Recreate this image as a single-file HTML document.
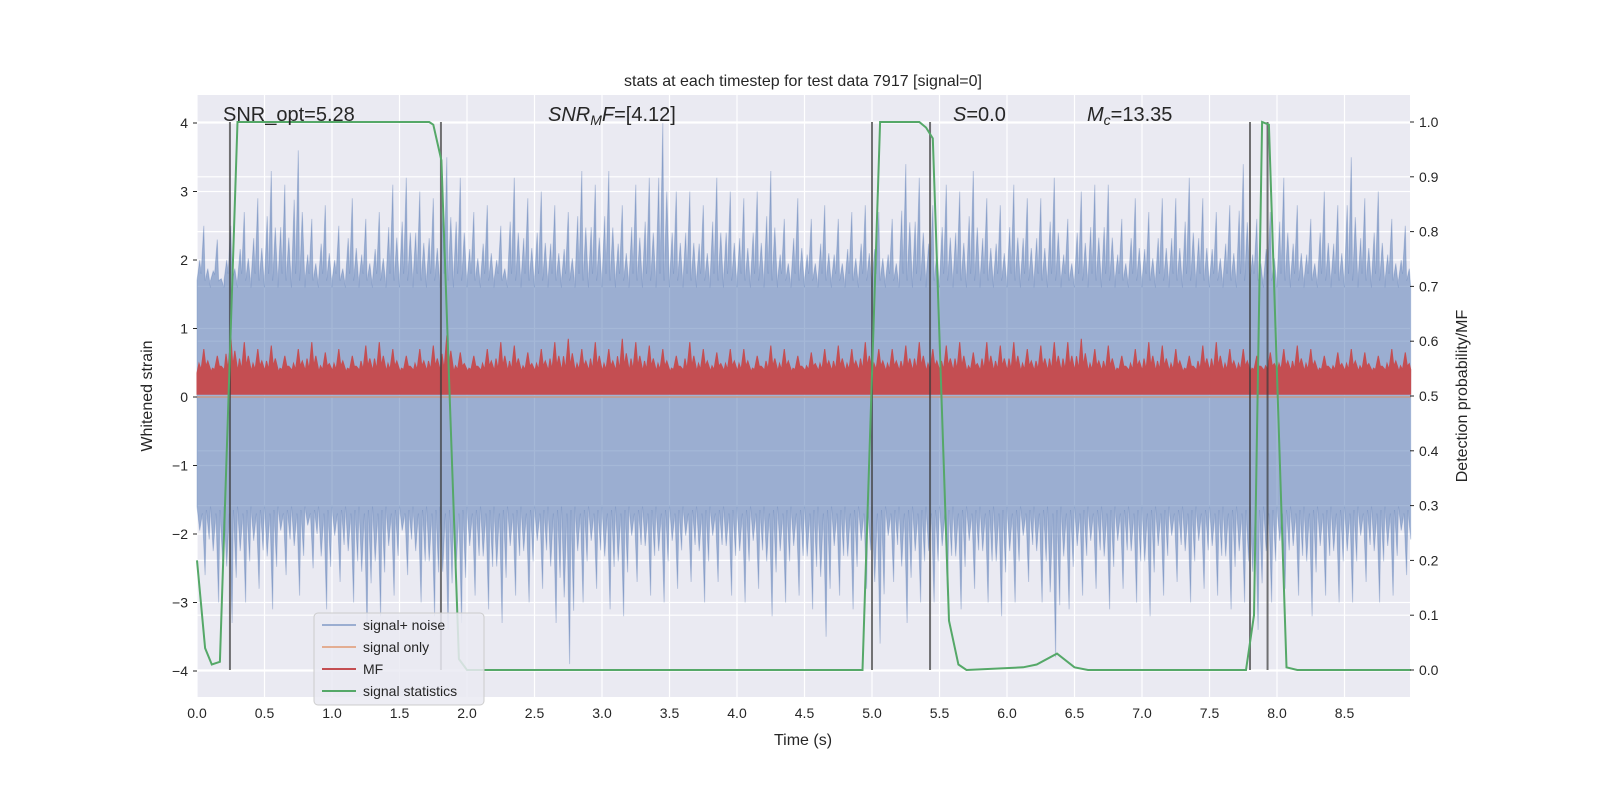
<!DOCTYPE html>
<html><head><meta charset="utf-8"><style>
html,body{margin:0;padding:0;background:#fff;width:1600px;height:800px;overflow:hidden;}
svg{display:block;font-family:"Liberation Sans","DejaVu Sans",sans-serif;}
</style></head><body>
<svg id="chart" width="1600" height="800" viewBox="0 0 1600 800">
<rect x="197" y="95" width="1213" height="602" fill="#eaeaf2"/>
<g id="grid"></g>
<g id="series"></g>
<g id="axes"></g>
<text x="803" y="86" text-anchor="middle" font-size="16" fill="#262626">stats at each timestep for test data 7917 [signal=0]</text>
<text x="223" y="121" font-size="20" fill="#262626">SNR_opt=5.28</text>
<text x="548" y="121" font-size="20" fill="#262626"><tspan font-style="italic">SNR</tspan><tspan font-style="italic" font-size="14" dy="4">M</tspan><tspan font-style="italic" dy="-4">F</tspan>=[4.12]</text>
<text x="953" y="121" font-size="20" fill="#262626"><tspan font-style="italic">S</tspan>=0.0</text>
<text x="1087" y="121" font-size="20" fill="#262626"><tspan font-style="italic">M</tspan><tspan font-style="italic" font-size="14" dy="4">c</tspan><tspan dy="-4">=13.35</tspan></text>
<text x="803" y="745" text-anchor="middle" font-size="16" fill="#262626">Time (s)</text>
<text transform="translate(152,396) rotate(-90)" text-anchor="middle" font-size="16" fill="#262626">Whitened strain</text>
<text transform="translate(1467,396) rotate(-90)" text-anchor="middle" font-size="16" fill="#262626">Detection probability/MF</text>
<g>
<rect x="314" y="613" width="170" height="92" rx="4" fill="#eaeaf2" fill-opacity="0.85" stroke="#cccccc"/>
<line x1="322" y1="625" x2="356" y2="625" stroke="#4c72b0" stroke-opacity="0.5" stroke-width="2"/>
<text x="363" y="630" font-size="14" fill="#262626">signal+ noise</text>
<line x1="322" y1="647" x2="356" y2="647" stroke="#dd8452" stroke-opacity="0.6" stroke-width="2"/>
<text x="363" y="652" font-size="14" fill="#262626">signal only</text>
<line x1="322" y1="669" x2="356" y2="669" stroke="#c44e52" stroke-width="2"/>
<text x="363" y="674" font-size="14" fill="#262626">MF</text>
<line x1="322" y1="691" x2="356" y2="691" stroke="#55a868" stroke-width="2"/>
<text x="363" y="696" font-size="14" fill="#262626">signal statistics</text>
</g>
</svg>
<script>
const binStarts = [0.0,0.1,0.2,0.3,0.4,0.5,0.6,0.7,0.8,0.9,1.0,1.1,1.2,1.3,1.4,1.5,1.6,1.7,1.8,1.9,2.0,2.1,2.2,2.3,2.4,2.5,2.6,2.7,2.8,2.9,3.0,3.1,3.2,3.3,3.4,3.5,3.6,3.7,3.8,3.9,4.0,4.1,4.2,4.3,4.4,4.5,4.6,4.7,4.8,4.9,5.0,5.1,5.2,5.3,5.4,5.5,5.6,5.7,5.8,5.9,6.0,6.1,6.2,6.3,6.4,6.5,6.6,6.7,6.8,6.9,7.0,7.1,7.2,7.3,7.4,7.5,7.6,7.7,7.8,7.9,8.0,8.1,8.2,8.3,8.4,8.5,8.6,8.7,8.8,8.9];
const noiseHigh = [2.5,2.3,2.5,2.7,2.9,3.3,3.1,3.6,2.6,2.8,2.5,2.9,2.6,2.7,3.1,3.2,3.0,2.9,3.5,3.2,2.7,2.8,2.5,3.2,2.9,3.0,2.8,2.7,3.3,3.1,3.3,2.8,3.1,3.2,4.0,3.0,3.0,2.8,3.2,3.0,2.9,3.0,3.3,2.6,2.9,2.6,2.8,2.6,2.7,2.8,2.7,2.6,3.4,3.2,2.8,3.1,3.0,3.3,2.9,2.8,3.1,2.9,2.9,3.2,2.6,3.0,3.1,3.1,2.6,2.9,2.7,2.9,2.9,3.2,2.9,2.7,2.8,3.4,2.6,2.7,3.2,2.8,2.6,3.0,2.8,3.5,2.9,3.0,2.6,2.5];
const noiseLow = [-2.6,-3.0,-3.3,-3.0,-2.8,-3.1,-2.6,-2.9,-2.5,-3.1,-2.7,-3.0,-3.4,-3.2,-2.9,-2.6,-3.0,-3.2,-3.4,-3.3,-2.9,-3.1,-3.3,-2.9,-3.0,-2.8,-3.3,-3.9,-3.0,-2.8,-3.1,-3.2,-2.7,-2.9,-3.0,-2.8,-2.7,-3.0,-2.7,-2.9,-3.0,-2.8,-3.2,-3.0,-2.9,-3.1,-3.5,-2.9,-3.1,-2.8,-3.6,-2.7,-3.3,-3.0,-3.0,-2.9,-3.1,-2.8,-3.0,-3.2,-3.0,-2.7,-3.0,-3.8,-3.1,-2.9,-2.8,-3.1,-2.8,-3.0,-3.2,-2.9,-2.7,-3.0,-2.8,-2.9,-3.1,-3.0,-3.4,-3.0,-2.8,-2.9,-3.2,-2.9,-3.0,-3.0,-2.7,-3.0,-2.9,-2.6];
const mfHigh = [0.7,0.6,0.9,0.8,0.7,0.75,0.6,0.7,0.8,0.65,0.7,0.6,0.75,0.8,0.7,0.6,0.7,0.75,0.9,0.65,0.6,0.7,0.8,0.75,0.65,0.7,0.8,0.85,0.7,0.8,0.7,0.85,0.8,0.75,0.7,0.6,0.8,0.7,0.65,0.7,0.7,0.6,0.75,0.7,0.6,0.65,0.7,0.75,0.7,0.8,0.7,0.7,0.75,0.8,0.7,0.75,0.8,0.65,0.8,0.75,0.8,0.7,0.75,0.8,0.8,0.85,0.7,0.75,0.6,0.7,0.8,0.75,0.7,0.6,0.75,0.8,0.7,0.7,0.6,0.65,0.7,0.75,0.7,0.6,0.65,0.7,0.65,0.6,0.7,0.65];
const statTimes = [0,0.06,0.11,0.17,0.3,1.72,1.75,1.81,1.94,2.0,4.93,5.06,5.35,5.4,5.45,5.57,5.64,5.7,6.12,6.22,6.37,6.5,6.6,7.77,7.83,7.89,7.94,8.07,8.15,8.99];
const statValues = [0.2,0.04,0.01,0.015,1.0,1.0,0.995,0.93,0.02,0.0,0.0,1.0,1.0,0.99,0.97,0.09,0.01,0.0,0.005,0.01,0.03,0.005,0.0,0.0,0.1,1.0,0.995,0.005,0.0,0.0];
const markerTimes = [0.244,1.807,5.0,5.43,7.80,7.93];
const xTicks = [0,0.5,1,1.5,2,2.5,3,3.5,4,4.5,5,5.5,6,6.5,7,7.5,8,8.5];
const yLeftTicks = [-4,-3,-2,-1,0,1,2,3,4];
const yRightTicks = [0,0.1,0.2,0.3,0.4,0.5,0.6,0.7,0.8,0.9,1.0];

const L=197,R=1410,T=95,B=697;
const xs = t => L + t*135;
const yl = v => 397 - v*68.5;
const yr = v => 670 - v*548;
const NS='http://www.w3.org/2000/svg';
function mk(tag, attrs, parent){const e=document.createElementNS(NS,tag);for(const k in attrs)e.setAttribute(k,attrs[k]);parent.appendChild(e);return e;}
const grid=document.getElementById('grid'), series=document.getElementById('series'), axes=document.getElementById('axes');

xTicks.forEach(t=>{
  const g=mk('line',{x1:xs(t),x2:xs(t),y1:T,y2:B,stroke:'#fff','stroke-width':1.2},grid);
  
  
  const tx=mk('text',{x:xs(t),y:B+21,'text-anchor':'middle','font-size':14,fill:'#262626'},axes);
  tx.textContent=t.toFixed(1);
  
  
});
yLeftTicks.forEach(v=>{
  const g=mk('line',{x1:L,x2:R,y1:yl(v),y2:yl(v),stroke:'#fff','stroke-width':1.2},grid);
  
  
  const tk=mk('line',{x1:L-4,x2:L,y1:yl(v),y2:yl(v),stroke:'#262626'},axes);
  
  
  const tx=mk('text',{x:L-9,y:yl(v)+5,'text-anchor':'end','font-size':14,fill:'#262626'},axes);
  tx.textContent=(v<0?'\u2212'+(-v):String(v));
  
  
});
yRightTicks.forEach(v=>{
  const g=mk('line',{x1:L,x2:R,y1:yr(v),y2:yr(v),stroke:'#fff','stroke-width':1.2},grid);
  
  
  const tk=mk('line',{x1:R,x2:R+4,y1:yr(v),y2:yr(v),stroke:'#262626'},axes);
  
  
  const tx=mk('text',{x:R+9,y:yr(v)+5,'font-size':14,fill:'#262626'},axes);
  tx.textContent=v.toFixed(1);
  
  
});

let up=[], lo=[];
binStarts.forEach((t,i)=>{
  const w=0.1;
  up.push([t,1.7],[t+0.02,noiseHigh[i]*0.8],[t+0.03,1.8],[t+0.05,noiseHigh[i]],[t+0.06,1.7],[t+0.08,noiseHigh[i]*0.75],[t+w,1.6]);
  lo.push([t,-1.6],[t+0.02,noiseLow[i]*0.75],[t+0.04,-1.7],[t+0.06,noiseLow[i]],[t+0.07,-1.65],[t+0.09,noiseLow[i]*0.8],[t+w,-1.6]);
});
const endT=8.99;
const clip = p => [Math.min(p[0],endT),p[1]];
let pts=up.map(clip).map(p=>xs(p[0]).toFixed(1)+','+yl(p[1]).toFixed(1));
pts=pts.concat(lo.map(clip).reverse().map(p=>xs(p[0]).toFixed(1)+','+yl(p[1]).toFixed(1)));
const noise=mk('polygon',{points:pts.join(' '),fill:'#4c72b0','fill-opacity':0.5,stroke:'#4c72b0','stroke-opacity':0.3,'stroke-width':1},series);



const sig=mk('line',{x1:xs(0),x2:xs(endT),y1:yl(0),y2:yl(0),stroke:'#dd8452','stroke-opacity':0.6,'stroke-width':1.5},series);



let mf=[];
binStarts.forEach((t,i)=>{
  mf.push([t,0.35],[t+0.015,mfHigh[i]*0.7],[t+0.03,0.4],[t+0.05,mfHigh[i]],[t+0.065,0.45],[t+0.08,mfHigh[i]*0.75],[t+0.1,0.4]);
});
let mpts=mf.map(clip).map(p=>xs(p[0]).toFixed(1)+','+yl(p[1]).toFixed(1));
mpts.push(xs(endT)+','+yl(0.04),xs(0)+','+yl(0.04));
const mfp=mk('polygon',{points:mpts.join(' '),fill:'#c44e52',stroke:'#c44e52','stroke-width':1},series);



markerTimes.forEach(t=>{
  const m=mk('line',{x1:xs(t),x2:xs(t),y1:yr(1),y2:yr(0),stroke:'#3a3a3a','stroke-opacity':0.7,'stroke-width':2},series);
  
  
});

const sp=statTimes.map((t,i)=>xs(t).toFixed(1)+','+yr(statValues[i]).toFixed(1)).join(' ');
const st=mk('polyline',{points:sp,fill:'none',stroke:'#55a868','stroke-width':2},series);


</script>
</body></html>
